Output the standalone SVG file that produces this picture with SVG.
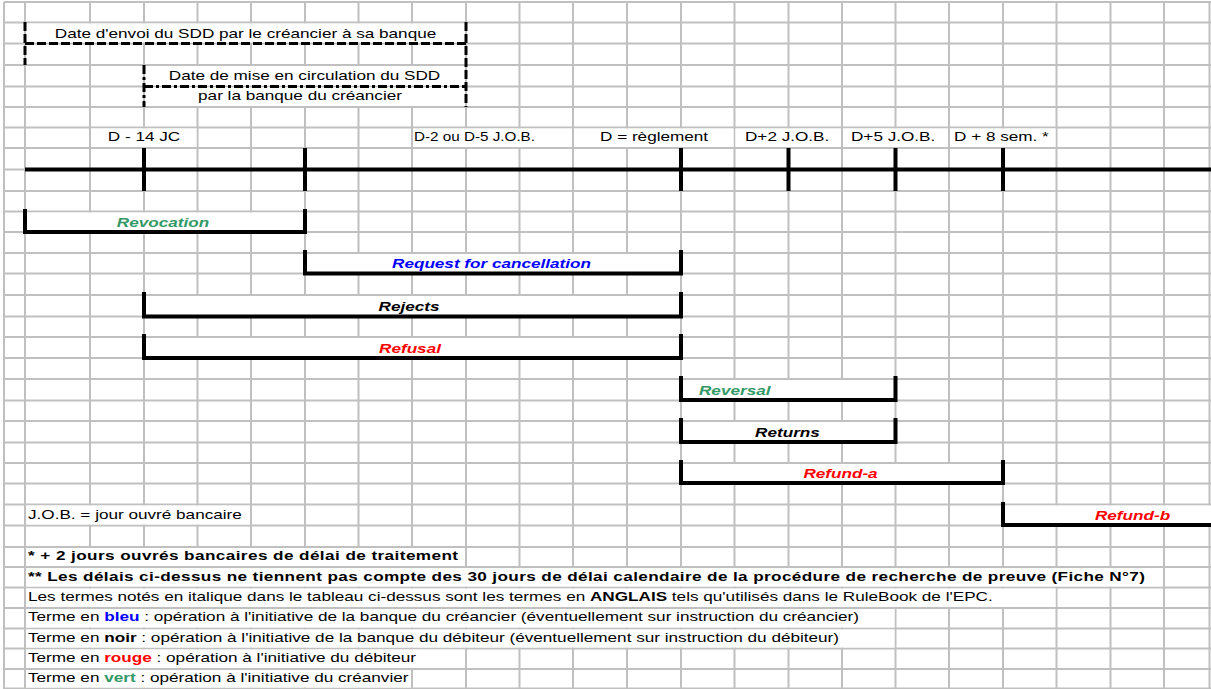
<svg xmlns="http://www.w3.org/2000/svg" width="1211" height="689" viewBox="0 0 1211 689">
<style>
.grid{stroke:#c0c0c0;stroke-width:2;fill:none}
.bg{fill:#ffffff}
.bar{stroke:#000;stroke-width:4;fill:none;stroke-linecap:square}
.tl{stroke:#000;stroke-width:4;fill:none}
.d1{stroke:#000;stroke-width:3;fill:none;stroke-dasharray:9 3}
.d2{stroke:#000;stroke-width:3;fill:none;stroke-dasharray:9 3 3 3}
text{font-family:"Liberation Sans",Arial,sans-serif;font-size:13.5px;fill:#000}
.bi{font-weight:bold;font-style:italic}
.b{font-weight:bold}
.m{text-anchor:middle}
.green{fill:#339966}
.blue{fill:#0000ff}
.red{fill:#ff0000}
</style>
<rect width="1211" height="689" fill="#ffffff"/>
<g id="grid">
<path class="grid" d="M4 2H1211M4 22.5H1211M4 43.5H1211M4 65H1211M4 86.5H1211M4 107H1211M4 127.5H1211M4 148H1211M4 169.5H1211M4 191H1211M4 211.5H1211M4 232H1211M4 253H1211M4 273.5H1211M4 295H1211M4 316.5H1211M4 337H1211M4 358H1211M4 379H1211M4 400.5H1211M4 421H1211M4 442.5H1211M4 463H1211M4 483.5H1211M4 504.5H1211M4 525.5H1211M4 547H1211M4 567H1211M4 587.5H1211M4 608H1211M4 628.5H1211M4 648.5H1211M4 669H1211M4 688.5H1211"/>
<path class="grid" d="M4 2V689M25 2V689M90 2V689M144 2V689M197.5 2V689M251 2V689M305 2V689M358.5 2V689M412 2V689M466 2V689M519.5 2V689M573 2V689M627 2V689M681 2V689M734.5 2V689M788.5 2V689M842 2V689M895.5 2V689M949 2V689M1003 2V689M1056.5 2V689M1110.5 2V689M1164 2V689M1209.5 2V689"/>
</g>
<g id="cell-backgrounds">
<rect class="bg" x="26" y="23.5" width="439" height="19"/>
<rect class="bg" x="145" y="66" width="320" height="19.5"/>
<rect class="bg" x="145" y="87.5" width="320" height="18.5"/>
<rect class="bg" x="91" y="128.5" width="105.5" height="18.5"/>
<rect class="bg" x="413" y="128.5" width="159" height="18.5"/>
<rect class="bg" x="574" y="128.5" width="159.5" height="18.5"/>
<rect class="bg" x="735.5" y="128.5" width="105.5" height="18.5"/>
<rect class="bg" x="843" y="128.5" width="105" height="18.5"/>
<rect class="bg" x="950" y="128.5" width="105.5" height="18.5"/>
<rect class="bg" x="26" y="212.5" width="278" height="18.5"/>
<rect class="bg" x="306" y="254" width="374" height="18.5"/>
<rect class="bg" x="145" y="296" width="535" height="19.5"/>
<rect class="bg" x="145" y="338" width="535" height="19"/>
<rect class="bg" x="682" y="380" width="212.5" height="19.5"/>
<rect class="bg" x="682" y="422" width="212.5" height="19.5"/>
<rect class="bg" x="682" y="464" width="320" height="18.5"/>
<rect class="bg" x="1004" y="505.5" width="207" height="19"/>
<rect class="bg" x="26" y="505.5" width="224" height="19"/>
<rect class="bg" x="26" y="548" width="439" height="18"/>
<rect class="bg" x="26" y="568" width="1137" height="18.5"/>
<rect class="bg" x="26" y="588.5" width="1029.5" height="18.5"/>
<rect class="bg" x="26" y="609" width="868.5" height="18.5"/>
<rect class="bg" x="26" y="629.5" width="868.5" height="18"/>
<rect class="bg" x="26" y="649.5" width="439" height="18.5"/>
<rect class="bg" x="26" y="670" width="385" height="17.5"/>
</g>
<g id="connectors">
<path class="tl" d="M25 169.5H1211"/>
<path class="tl" d="M144 148V191M305 148V191M681 148V191M788.5 148V191M895.5 148V191M1003 148V191"/>
</g>
<g id="box-envoi">
<path class="d1" d="M25 22V65M25 43.5H466M466 22V107"/>
<text class="m" transform="translate(245.5 37.5) scale(1.27 1)">Date d'envoi du SDD par le créancier à sa banque</text>
</g>
<g id="box-circulation">
<path class="d2" d="M144 65V107M144 86.5H466"/>
<text class="m" transform="translate(304.5 80) scale(1.27 1)">Date de mise en circulation du SDD</text>
<text class="m" transform="translate(300 99.5) scale(1.27 1)">par la banque du créancier</text>
</g>
<g id="timeline-labels">
<text class="m" transform="translate(144 141) scale(1.27 1)">D - 14 JC</text>
<text transform="translate(414 141) scale(1.27 1)" style="font-size:12px">D-2 ou D-5 J.O.B.</text>
<text transform="translate(600 141) scale(1.27 1)">D = règlement</text>
<text transform="translate(745 141) scale(1.27 1)">D+2 J.O.B.</text>
<text transform="translate(851 141) scale(1.27 1)">D+5 J.O.B.</text>
<text transform="translate(954 141) scale(1.27 1)">D + 8 sem. *</text>
</g>
<g id="revocation">
<path class="bar" d="M25 211V232H305V211"/>
<text class="bi green m" transform="translate(163 227) scale(1.27 1)">Revocation</text>
</g>
<g id="request-for-cancellation">
<path class="bar" d="M305 252V273.5H681V252"/>
<text class="bi blue m" transform="translate(491.5 268) scale(1.27 1)">Request for cancellation</text>
</g>
<g id="rejects">
<path class="bar" d="M144 294V316.5H681V294"/>
<text class="bi m" transform="translate(409 311) scale(1.27 1)">Rejects</text>
</g>
<g id="refusal">
<path class="bar" d="M144 336V358H681V336"/>
<text class="bi red m" transform="translate(410 352.5) scale(1.27 1)">Refusal</text>
</g>
<g id="reversal">
<path class="bar" d="M681 378V400H895.5V378"/>
<text class="bi green" transform="translate(699 394.5) scale(1.27 1)">Reversal</text>
</g>
<g id="returns">
<path class="bar" d="M681 420V442H895.5V420"/>
<text class="bi m" transform="translate(787.5 436.5) scale(1.27 1)">Returns</text>
</g>
<g id="refund-a">
<path class="bar" d="M681 462V483H1003V462"/>
<text class="bi red m" transform="translate(840.5 477.5) scale(1.27 1)">Refund-a</text>
</g>
<g id="refund-b">
<path class="bar" d="M1003 504V525H1213"/>
<text class="bi red m" transform="translate(1132.5 519.5) scale(1.27 1)">Refund-b</text>
</g>
<g id="notes">
<text transform="translate(28 518.5) scale(1.27 1)">J.O.B. = jour ouvré bancaire</text>
<text class="b" transform="translate(28 560) scale(1.27 1)" textLength="338.6" lengthAdjust="spacing">* + 2 jours ouvrés bancaires de délai de traitement</text>
<text class="b" transform="translate(28 581) scale(1.27 1)" textLength="879.5" lengthAdjust="spacing">** Les délais ci-dessus ne tiennent pas compte des 30 jours de délai calendaire de la procédure de recherche de preuve (Fiche N°7)</text>
<text transform="translate(28 601) scale(1.27 1)">Les termes notés en italique dans le tableau ci-dessus sont les termes en <tspan class="b">ANGLAIS</tspan> tels qu'utilisés dans le RuleBook de l'EPC.</text>
<text transform="translate(28 621) scale(1.27 1)">Terme en <tspan class="b blue">bleu</tspan> : opération à l'initiative de la banque du créancier (éventuellement sur instruction du créancier)</text>
<text transform="translate(28 641.5) scale(1.27 1)">Terme en <tspan class="b">noir</tspan> : opération à l'initiative de la banque du débiteur (éventuellement sur instruction du débiteur)</text>
<text transform="translate(28 662) scale(1.27 1)">Terme en <tspan class="b red">rouge</tspan>  : opération à l'initiative du débiteur</text>
<text transform="translate(28 682) scale(1.27 1)">Terme en <tspan class="b green">vert</tspan> : opération à l'initiative du créanvier</text>
</g>
</svg>
